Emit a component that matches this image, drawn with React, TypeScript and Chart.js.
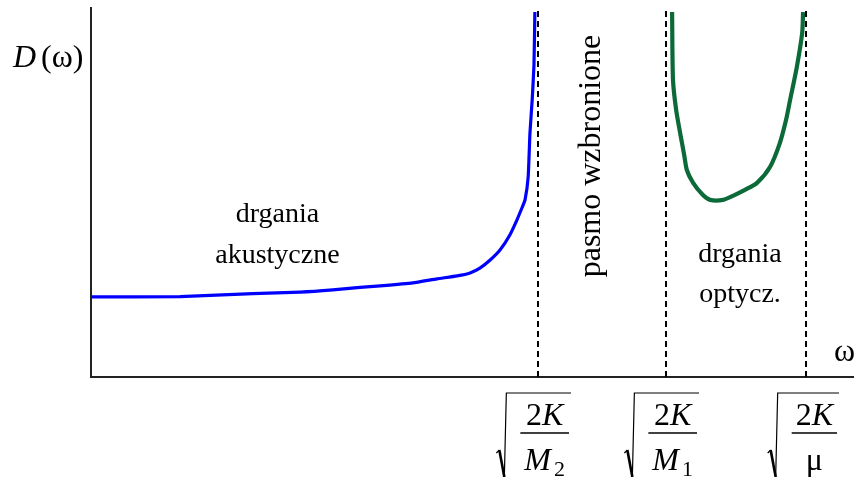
import React, { useEffect, useRef } from "react";
import { Chart, registerables } from "chart.js";

Chart.register(...registerables);

// Frequency (in units of sqrt(2K/M2)) and density of states D(ω)
const acousticOmega = [0, 0.199, 0.362, 0.468, 0.541, 0.602, 0.647, 0.72, 0.774, 0.819, 0.848, 0.87, 0.893, 0.915, 0.937, 0.953, 0.964, 0.971, 0.978, 0.982, 0.987, 0.991, 0.993];
const acousticD = [0.217, 0.218, 0.226, 0.23, 0.236, 0.243, 0.247, 0.255, 0.266, 0.274, 0.282, 0.295, 0.317, 0.344, 0.385, 0.426, 0.458, 0.48, 0.542, 0.661, 0.751, 0.846, 0.989];
const opticalOmega = [1.3, 1.302, 1.309, 1.318, 1.327, 1.333, 1.347, 1.369, 1.385, 1.414, 1.436, 1.463, 1.49, 1.519, 1.541, 1.555, 1.564, 1.579, 1.591, 1.593];
const opticalD = [0.989, 0.805, 0.724, 0.661, 0.602, 0.561, 0.526, 0.493, 0.48, 0.48, 0.491, 0.507, 0.526, 0.569, 0.634, 0.697, 0.751, 0.84, 0.932, 0.989];

// Band edges: sqrt(2K/M2), sqrt(2K/M1), sqrt(2K/μ)
const edgeOmega = [1.0, 1.2864, 1.5996];
const edgeNumerators = ["2K", "2K", "2K"];
const edgeDenominators = ["M", "M", "μ"];
const edgeSubscripts = ["2", "1", ""];
const omegaMax = 1.7047;

const yLabel = ["D", "(ω)"];
const xLabel = "ω";
const acousticLabel = ["drgania", "akustyczne"];
const opticalLabel = ["drgania", "optycz."];
const gapLabel = "pasmo wzbronione";

const SERIF = "'Liberation Serif', 'Times New Roman', serif";

const labelsPlugin = {
  id: "labels",
  afterDraw(chart: any) {
    const ctx = chart.ctx as CanvasRenderingContext2D;
    const xs = chart.scales.x;
    ctx.save();
    ctx.fillStyle = "#000";
    ctx.strokeStyle = "#000";
    ctx.textBaseline = "alphabetic";

    // y axis title
    ctx.textAlign = "left";
    ctx.font = `italic 32px ${SERIF}`;
    ctx.fillText(yLabel[0], 13, 67);
    ctx.font = `32px ${SERIF}`;
    ctx.fillText(yLabel[1], 41, 67);

    // x axis title
    ctx.font = `32px ${SERIF}`;
    ctx.fillText(xLabel, 834, 361);

    // region labels
    ctx.textAlign = "center";
    ctx.font = `28px ${SERIF}`;
    const ax = xs.getPixelForValue(edgeOmega[0] * 0.417);
    ctx.fillText(acousticLabel[0], ax, 222);
    ctx.fillText(acousticLabel[1], ax, 263);
    const ox = xs.getPixelForValue((edgeOmega[1] + edgeOmega[2]) / 2) + 4;
    ctx.fillText(opticalLabel[0], ox, 262);
    ctx.fillText(opticalLabel[1], ox, 302);

    // gap label, rotated
    const gx = xs.getPixelForValue(edgeOmega[0] + (edgeOmega[1] - edgeOmega[0]) * 0.53);
    ctx.save();
    ctx.translate(gx - 6, 156);
    ctx.rotate(-Math.PI / 2);
    ctx.font = `32px ${SERIF}`;
    ctx.textAlign = "center";
    ctx.fillText(gapLabel, 0, 0);
    ctx.restore();

    // tick labels: sqrt(2K / M)
    for (let i = 0; i < edgeOmega.length; i++) {
      const tx = xs.getPixelForValue(edgeOmega[i]);
      const num = edgeNumerators[i];
      const den = edgeDenominators[i];
      const sub = edgeSubscripts[i];
      ctx.font = `32px ${SERIF}`;
      const w2 = ctx.measureText(num[0]).width;
      ctx.font = `italic 32px ${SERIF}`;
      const wK = ctx.measureText(num.slice(1)).width;
      const numW = w2 + wK;
      const denItalic = den !== "μ";
      ctx.font = `${denItalic ? "italic " : ""}32px ${SERIF}`;
      const wD = ctx.measureText(den).width;
      ctx.font = `22px ${SERIF}`;
      const wS = sub ? ctx.measureText(sub).width + 3 : 0;
      const denW = wD + wS;
      const fracW = Math.max(numW, denW) + 8;
      const barRight = tx + 31;
      const barLeft = barRight - fracW;
      const cx = (barLeft + barRight) / 2;
      const rx = barLeft - 14;

      // numerator
      ctx.textAlign = "left";
      ctx.font = `32px ${SERIF}`;
      ctx.fillText(num[0], cx - numW / 2, 425);
      ctx.font = `italic 32px ${SERIF}`;
      ctx.fillText(num.slice(1), cx - numW / 2 + w2, 425);
      // fraction bar
      ctx.lineWidth = 1.3;
      ctx.beginPath();
      ctx.moveTo(barLeft, 433);
      ctx.lineTo(barRight, 433);
      ctx.stroke();
      // denominator
      ctx.font = `${denItalic ? "italic " : ""}32px ${SERIF}`;
      ctx.fillText(den, cx - denW / 2, 470);
      if (sub) {
        ctx.font = `22px ${SERIF}`;
        ctx.fillText(sub, cx - denW / 2 + wD + 3, 476);
      }
      // radical sign
      ctx.lineWidth = 1.2;
      ctx.beginPath();
      ctx.moveTo(rx - 10, 453);
      ctx.lineTo(rx - 7, 450);
      ctx.stroke();
      ctx.lineWidth = 2.6;
      ctx.beginPath();
      ctx.moveTo(rx - 7, 450);
      ctx.lineTo(rx - 2, 477);
      ctx.stroke();
      ctx.lineWidth = 1.2;
      ctx.beginPath();
      ctx.moveTo(rx - 2, 477);
      ctx.lineTo(rx, 393);
      ctx.lineTo(barRight + 2, 393);
      ctx.stroke();
    }
    ctx.restore();
  },
};

export default function App() {
  const ref = useRef<HTMLCanvasElement | null>(null);
  useEffect(() => {
    document.body.style.margin = "0";
    const canvas = ref.current;
    if (!canvas) return;
    const toPts = (xs: number[], ys: number[]) => xs.map((x, i) => ({ x, y: ys[i] }));
    const edgeSets = edgeOmega.map((w) => ({
      data: [
        { x: w, y: 0 },
        { x: w, y: 1 },
      ],
      borderColor: "#000",
      borderWidth: 2,
      borderDash: [6, 4],
      pointRadius: 0,
      fill: false,
    }));
    const chart = new Chart(canvas, {
      type: "line",
      data: {
        datasets: [
          ...edgeSets,
          {
            data: toPts(acousticOmega, acousticD),
            borderColor: "#0000ff",
            borderWidth: 3.2,
            pointRadius: 0,
            tension: 0.15,
            fill: false,
          },
          {
            data: toPts(opticalOmega, opticalD),
            borderColor: "#0b6a38",
            borderWidth: 4.2,
            pointRadius: 0,
            tension: 0.25,
            fill: false,
          },
          {
            data: toPts(opticalOmega, opticalD),
            borderColor: "#2c9e4b",
            borderWidth: 2.2,
            pointRadius: 0,
            tension: 0.25,
            fill: false,
          },
        ],
      } as any,
      options: {
        responsive: false,
        animation: false,
        parsing: false as any,
        clip: false as any,
        layout: { padding: { left: 91, top: 8, right: 1, bottom: 100 } },
        plugins: { legend: { display: false }, tooltip: { enabled: false } },
        scales: {
          x: {
            type: "linear",
            min: 0,
            max: omegaMax,
            ticks: { display: false },
            grid: { display: false },
            border: { display: true, color: "#222", width: 2 },
            afterFit: (s: any) => {
              s.height = 0;
            },
          },
          y: {
            type: "linear",
            min: 0,
            max: 1,
            ticks: { display: false },
            grid: { display: false },
            border: { display: true, color: "#222", width: 2 },
            afterFit: (s: any) => {
              s.width = 0;
            },
          },
        },
      } as any,
      plugins: [labelsPlugin],
    });
    return () => chart.destroy();
  }, []);
  return (
    <div style={{ position: "absolute", left: 0, top: 0, width: 854, height: 477, background: "#fff" }}>
      <canvas ref={ref} width={854} height={477} style={{ display: "block" }} />
    </div>
  );
}
